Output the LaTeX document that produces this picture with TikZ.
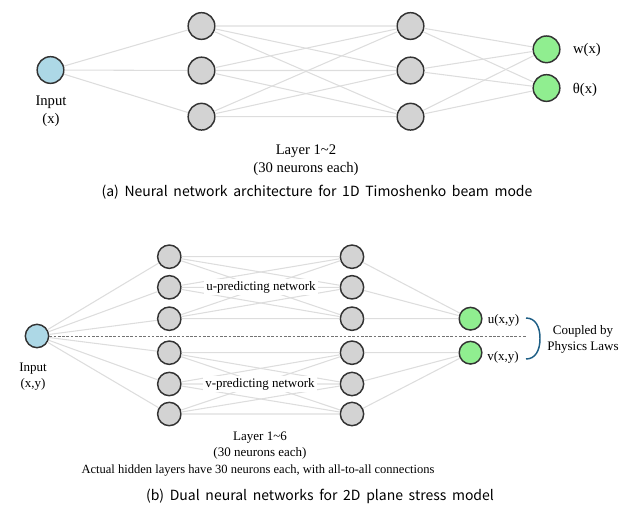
\documentclass[tikz,border=0pt]{standalone}
\usepackage{fontspec}
\setmainfont{Liberation Serif}
\newfontfamily\capfont[WordSpace=1.8]{Noto Sans CJK KR}
\usepackage{xcolor}
\usepackage{tikz}
\usetikzlibrary{calc}

\definecolor{inblue}{HTML}{ADD8E6}
\definecolor{outgreen}{HTML}{90EE90}
\definecolor{hidgray}{HTML}{D3D3D3}
\definecolor{rimgray}{HTML}{333333}
\definecolor{wiregray}{HTML}{DDDDDD}
\definecolor{bracecol}{HTML}{1F5F86}

\tikzset{
    neuron/.style={circle, draw=rimgray, line width=1.1pt, fill=hidgray, inner sep=0pt, minimum size=20pt},
    smallneuron/.style={neuron, minimum size=17.5pt},
    wire/.style={draw=wiregray, line width=0.8pt},
    lbla/.style={font=\fontsize{11}{13.5}\selectfont, align=center, inner sep=0pt},
    lblb/.style={font=\fontsize{9.75}{12}\selectfont, align=center, inner sep=0pt},
    capt/.style={font=\capfont\fontsize{10.5}{12}\selectfont, inner sep=0pt}
}

\begin{document}
\begin{tikzpicture}[x=0.75pt, y=-0.75pt]
    \useasboundingbox (0,0) rectangle (643,512);

    % (a) Timoshenko beam network
    \node[neuron, fill=inblue] (ina) at (50.5,70) {};
    \node[neuron] (a11) at (201.5,26) {};
    \node[neuron] (a12) at (201.5,70.5) {};
    \node[neuron] (a13) at (201.5,116.7) {};
    \node[neuron] (a21) at (410.5,26) {};
    \node[neuron] (a22) at (410.5,70.5) {};
    \node[neuron] (a23) at (410.5,116.7) {};
    \node[neuron, fill=outgreen] (outw) at (546.5,49.3) {};
    \node[neuron, fill=outgreen] (outt) at (546.5,88) {};

    \draw[wire] (ina) -- (a11) (ina) -- (a12) (ina) -- (a13);
    \draw[wire] (a11) -- (a21) (a11) -- (a22) (a11) -- (a23);
    \draw[wire] (a12) -- (a21) (a12) -- (a22) (a12) -- (a23);
    \draw[wire] (a13) -- (a21) (a13) -- (a22) (a13) -- (a23);
    \draw[wire] (a21) -- (outw) (a22) -- (outw) (a23) -- (outw);
    \draw[wire] (a21) -- (outt) (a22) -- (outt) (a23) -- (outt);

    \node[lbla] (inlabela) at (51,111) {Input\\(x)};
    \node[lbla] (wlabel) at (587,49.5) {w(x)};
    \node[lbla] (tlabel) at (585,90) {θ(x)};
    \node[lbla] (layera) at (306,160) {Layer 1\textasciitilde2\\(30 neurons each)};
    \node[capt] (capa) at (317,192) {(a) Neural network architecture for 1D Timoshenko beam mode};

    % (b) dual networks for plane stress
    \node[smallneuron, fill=inblue] (inb) at (37,336) {};
    \node[smallneuron] (b11) at (169.3,256.7) {};
    \node[smallneuron] (b12) at (169.3,287.3) {};
    \node[smallneuron] (b13) at (169.3,318.7) {};
    \node[smallneuron] (b14) at (169.3,352.7) {};
    \node[smallneuron] (b15) at (169.3,384) {};
    \node[smallneuron] (b16) at (169.3,414) {};
    \node[smallneuron] (b21) at (352,256.7) {};
    \node[smallneuron] (b22) at (352,287.3) {};
    \node[smallneuron] (b23) at (352,318.7) {};
    \node[smallneuron] (b24) at (352,352.7) {};
    \node[smallneuron] (b25) at (352,384) {};
    \node[smallneuron] (b26) at (352,414) {};
    \node[smallneuron, fill=outgreen, minimum size=17pt] (outu) at (470.5,318.7) {};
    \node[smallneuron, fill=outgreen, minimum size=17pt] (outv) at (470.5,352.7) {};
    \coordinate (splitend) at (526,336);

    \draw[wire] (inb) -- (b11) (inb) -- (b12) (inb) -- (b13)
        (inb) -- (b14) (inb) -- (b15) (inb) -- (b16);
    % u part
    \draw[wire] (b11) -- (b21) (b11) -- (b22) (b11) -- (b23);
    \draw[wire] (b12) -- (b21) (b12) -- (b22) (b12) -- (b23);
    \draw[wire] (b13) -- (b21) (b13) -- (b22) (b13) -- (b23);
    \draw[wire] (b21) -- (outu) (b22) -- (outu) (b23) -- (outu);
    % v part
    \draw[wire] (b14) -- (b24) (b14) -- (b25) (b14) -- (b26);
    \draw[wire] (b15) -- (b24) (b15) -- (b25) (b15) -- (b26);
    \draw[wire] (b16) -- (b24) (b16) -- (b25) (b16) -- (b26);
    \draw[wire] (b24) -- (outv) (b25) -- (outv) (b26) -- (outv);

    \draw[black!55, line width=0.7pt, dash pattern=on 2pt off 1.2pt] (inb) -- (splitend);
    \draw[bracecol, line width=1.1pt] (526,318) .. controls (535,318) and (540,326) .. (540,338.5)
        .. controls (540,351) and (535,359) .. (526,359);

    \node[lblb, fill=white, inner sep=1.5pt] (unet) at (261,287) {u-predicting network};
    \node[lblb, fill=white, inner sep=1.5pt] (vnet) at (260,384) {v-predicting network};
    \node[lblb] (inlabelb) at (33,377) {Input\\(x,y)};
    \node[lblb] (ulabel) at (503.5,320) {u(x,y)};
    \node[lblb] (vlabel) at (503,357) {v(x,y)};
    \node[lblb] (coupled) at (583,339.5) {Coupled by\\Physics Laws};
    \node[lblb] (layerb) at (260,446) {Layer 1\textasciitilde6\\(30 neurons each)};
    \node[lblb, font=\fontsize{9.4}{11}\selectfont] (note) at (258,470) {Actual hidden layers have 30 neurons each, with all-to-all connections};
    \node[capt] (capb) at (320,496) {(b) Dual neural networks for 2D plane stress model};
\end{tikzpicture}
\end{document}
